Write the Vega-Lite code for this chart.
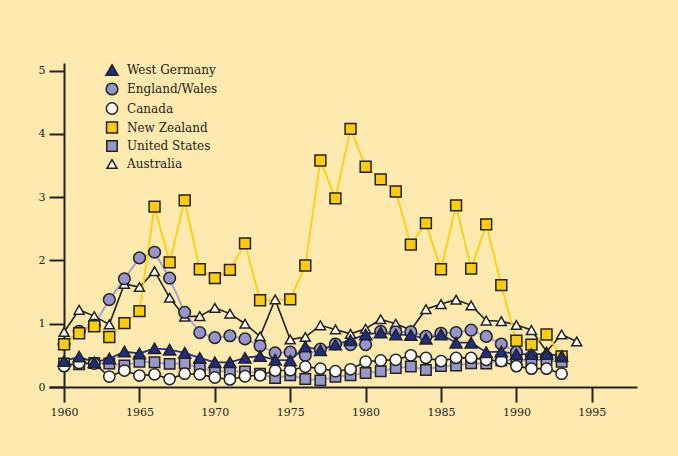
{
  "$schema": "https://vega.github.io/schema/vega-lite/v6.json",
  "width": 588,
  "height": 324,
  "autosize": {"type": "none"},
  "padding": {"left": 49, "top": 63, "right": 41, "bottom": 69},
  "background": "#FEEAAE",
  "config": {
    "view": {"stroke": null},
    "font": "DejaVu Serif"
  },
  "datasets": {
    "series": [
      {"country": "Australia", "year": 1960, "value": 0.87},
      {"country": "Australia", "year": 1961, "value": 1.22},
      {"country": "Australia", "year": 1962, "value": 1.12},
      {"country": "Australia", "year": 1963, "value": 0.99},
      {"country": "Australia", "year": 1964, "value": 1.63},
      {"country": "Australia", "year": 1965, "value": 1.58},
      {"country": "Australia", "year": 1966, "value": 1.83},
      {"country": "Australia", "year": 1967, "value": 1.41},
      {"country": "Australia", "year": 1968, "value": 1.11},
      {"country": "Australia", "year": 1969, "value": 1.12},
      {"country": "Australia", "year": 1970, "value": 1.25},
      {"country": "Australia", "year": 1971, "value": 1.16},
      {"country": "Australia", "year": 1972, "value": 1.0},
      {"country": "Australia", "year": 1973, "value": 0.8},
      {"country": "Australia", "year": 1974, "value": 1.385},
      {"country": "Australia", "year": 1975, "value": 0.75},
      {"country": "Australia", "year": 1976, "value": 0.79},
      {"country": "Australia", "year": 1977, "value": 0.975},
      {"country": "Australia", "year": 1978, "value": 0.91},
      {"country": "Australia", "year": 1979, "value": 0.84},
      {"country": "Australia", "year": 1980, "value": 0.92},
      {"country": "Australia", "year": 1981, "value": 1.07},
      {"country": "Australia", "year": 1982, "value": 1.0},
      {"country": "Australia", "year": 1983, "value": 0.9},
      {"country": "Australia", "year": 1984, "value": 1.23},
      {"country": "Australia", "year": 1985, "value": 1.31},
      {"country": "Australia", "year": 1986, "value": 1.38},
      {"country": "Australia", "year": 1987, "value": 1.29},
      {"country": "Australia", "year": 1988, "value": 1.05},
      {"country": "Australia", "year": 1989, "value": 1.04},
      {"country": "Australia", "year": 1990, "value": 0.98},
      {"country": "Australia", "year": 1991, "value": 0.9},
      {"country": "Australia", "year": 1992, "value": 0.56},
      {"country": "Australia", "year": 1993, "value": 0.83},
      {"country": "Australia", "year": 1994, "value": 0.72},

      {"country": "England/Wales", "year": 1960, "value": 0.68},
      {"country": "England/Wales", "year": 1961, "value": 0.88},
      {"country": "England/Wales", "year": 1962, "value": 0.98},
      {"country": "England/Wales", "year": 1963, "value": 1.38},
      {"country": "England/Wales", "year": 1964, "value": 1.71},
      {"country": "England/Wales", "year": 1965, "value": 2.04},
      {"country": "England/Wales", "year": 1966, "value": 2.13},
      {"country": "England/Wales", "year": 1967, "value": 1.72},
      {"country": "England/Wales", "year": 1968, "value": 1.18},
      {"country": "England/Wales", "year": 1969, "value": 0.86},
      {"country": "England/Wales", "year": 1970, "value": 0.78},
      {"country": "England/Wales", "year": 1971, "value": 0.81},
      {"country": "England/Wales", "year": 1972, "value": 0.76},
      {"country": "England/Wales", "year": 1973, "value": 0.65},
      {"country": "England/Wales", "year": 1974, "value": 0.54},
      {"country": "England/Wales", "year": 1975, "value": 0.55},
      {"country": "England/Wales", "year": 1976, "value": 0.5},
      {"country": "England/Wales", "year": 1977, "value": 0.6},
      {"country": "England/Wales", "year": 1978, "value": 0.68},
      {"country": "England/Wales", "year": 1979, "value": 0.67},
      {"country": "England/Wales", "year": 1980, "value": 0.67},
      {"country": "England/Wales", "year": 1981, "value": 0.88},
      {"country": "England/Wales", "year": 1982, "value": 0.87},
      {"country": "England/Wales", "year": 1983, "value": 0.87},
      {"country": "England/Wales", "year": 1984, "value": 0.8},
      {"country": "England/Wales", "year": 1985, "value": 0.85},
      {"country": "England/Wales", "year": 1986, "value": 0.86},
      {"country": "England/Wales", "year": 1987, "value": 0.9},
      {"country": "England/Wales", "year": 1988, "value": 0.8},
      {"country": "England/Wales", "year": 1989, "value": 0.68},
      {"country": "England/Wales", "year": 1990, "value": 0.55},
      {"country": "England/Wales", "year": 1991, "value": 0.48},
      {"country": "England/Wales", "year": 1992, "value": 0.47},
      {"country": "England/Wales", "year": 1993, "value": 0.45},

      {"country": "United States", "year": 1960, "value": 0.37},
      {"country": "United States", "year": 1961, "value": 0.36},
      {"country": "United States", "year": 1962, "value": 0.38},
      {"country": "United States", "year": 1963, "value": 0.37},
      {"country": "United States", "year": 1964, "value": 0.34},
      {"country": "United States", "year": 1965, "value": 0.4},
      {"country": "United States", "year": 1966, "value": 0.39},
      {"country": "United States", "year": 1967, "value": 0.365},
      {"country": "United States", "year": 1968, "value": 0.375},
      {"country": "United States", "year": 1969, "value": 0.295},
      {"country": "United States", "year": 1970, "value": 0.255},
      {"country": "United States", "year": 1971, "value": 0.245},
      {"country": "United States", "year": 1972, "value": 0.245},
      {"country": "United States", "year": 1973, "value": 0.21},
      {"country": "United States", "year": 1974, "value": 0.14},
      {"country": "United States", "year": 1975, "value": 0.185},
      {"country": "United States", "year": 1976, "value": 0.125},
      {"country": "United States", "year": 1977, "value": 0.105},
      {"country": "United States", "year": 1978, "value": 0.16},
      {"country": "United States", "year": 1979, "value": 0.185},
      {"country": "United States", "year": 1980, "value": 0.22},
      {"country": "United States", "year": 1981, "value": 0.25},
      {"country": "United States", "year": 1982, "value": 0.3},
      {"country": "United States", "year": 1983, "value": 0.325},
      {"country": "United States", "year": 1984, "value": 0.27},
      {"country": "United States", "year": 1985, "value": 0.33},
      {"country": "United States", "year": 1986, "value": 0.34},
      {"country": "United States", "year": 1987, "value": 0.375},
      {"country": "United States", "year": 1988, "value": 0.37},
      {"country": "United States", "year": 1989, "value": 0.42},
      {"country": "United States", "year": 1990, "value": 0.42},
      {"country": "United States", "year": 1991, "value": 0.42},
      {"country": "United States", "year": 1992, "value": 0.43},
      {"country": "United States", "year": 1993, "value": 0.4},

      {"country": "Canada", "year": 1960, "value": 0.33},
      {"country": "Canada", "year": 1961, "value": 0.38},
      {"country": "Canada", "year": 1962, "value": 0.37},
      {"country": "Canada", "year": 1963, "value": 0.165},
      {"country": "Canada", "year": 1964, "value": 0.26},
      {"country": "Canada", "year": 1965, "value": 0.18},
      {"country": "Canada", "year": 1966, "value": 0.2},
      {"country": "Canada", "year": 1967, "value": 0.125},
      {"country": "Canada", "year": 1968, "value": 0.21},
      {"country": "Canada", "year": 1969, "value": 0.2},
      {"country": "Canada", "year": 1970, "value": 0.15},
      {"country": "Canada", "year": 1971, "value": 0.12},
      {"country": "Canada", "year": 1972, "value": 0.17},
      {"country": "Canada", "year": 1973, "value": 0.185},
      {"country": "Canada", "year": 1974, "value": 0.26},
      {"country": "Canada", "year": 1975, "value": 0.265},
      {"country": "Canada", "year": 1976, "value": 0.32},
      {"country": "Canada", "year": 1977, "value": 0.29},
      {"country": "Canada", "year": 1978, "value": 0.25},
      {"country": "Canada", "year": 1979, "value": 0.28},
      {"country": "Canada", "year": 1980, "value": 0.4},
      {"country": "Canada", "year": 1981, "value": 0.42},
      {"country": "Canada", "year": 1982, "value": 0.43},
      {"country": "Canada", "year": 1983, "value": 0.5},
      {"country": "Canada", "year": 1984, "value": 0.46},
      {"country": "Canada", "year": 1985, "value": 0.41},
      {"country": "Canada", "year": 1986, "value": 0.46},
      {"country": "Canada", "year": 1987, "value": 0.46},
      {"country": "Canada", "year": 1988, "value": 0.43},
      {"country": "Canada", "year": 1989, "value": 0.41},
      {"country": "Canada", "year": 1990, "value": 0.33},
      {"country": "Canada", "year": 1991, "value": 0.29},
      {"country": "Canada", "year": 1992, "value": 0.29},
      {"country": "Canada", "year": 1993, "value": 0.21},

      {"country": "New Zealand", "year": 1960, "value": 0.675},
      {"country": "New Zealand", "year": 1961, "value": 0.85},
      {"country": "New Zealand", "year": 1962, "value": 0.96},
      {"country": "New Zealand", "year": 1963, "value": 0.79},
      {"country": "New Zealand", "year": 1964, "value": 1.01},
      {"country": "New Zealand", "year": 1965, "value": 1.2},
      {"country": "New Zealand", "year": 1966, "value": 2.85},
      {"country": "New Zealand", "year": 1967, "value": 1.97},
      {"country": "New Zealand", "year": 1968, "value": 2.95},
      {"country": "New Zealand", "year": 1969, "value": 1.86},
      {"country": "New Zealand", "year": 1970, "value": 1.72},
      {"country": "New Zealand", "year": 1971, "value": 1.85},
      {"country": "New Zealand", "year": 1972, "value": 2.27},
      {"country": "New Zealand", "year": 1973, "value": 1.37},
      {"country": "New Zealand", "year": 1975, "value": 1.385},
      {"country": "New Zealand", "year": 1976, "value": 1.92},
      {"country": "New Zealand", "year": 1977, "value": 3.58},
      {"country": "New Zealand", "year": 1978, "value": 2.98},
      {"country": "New Zealand", "year": 1979, "value": 4.08},
      {"country": "New Zealand", "year": 1980, "value": 3.48},
      {"country": "New Zealand", "year": 1981, "value": 3.28},
      {"country": "New Zealand", "year": 1982, "value": 3.09},
      {"country": "New Zealand", "year": 1983, "value": 2.25},
      {"country": "New Zealand", "year": 1984, "value": 2.59},
      {"country": "New Zealand", "year": 1985, "value": 1.86},
      {"country": "New Zealand", "year": 1986, "value": 2.87},
      {"country": "New Zealand", "year": 1987, "value": 1.87},
      {"country": "New Zealand", "year": 1988, "value": 2.57},
      {"country": "New Zealand", "year": 1989, "value": 1.61},
      {"country": "New Zealand", "year": 1990, "value": 0.73},
      {"country": "New Zealand", "year": 1991, "value": 0.67},
      {"country": "New Zealand", "year": 1992, "value": 0.83},
      {"country": "New Zealand", "year": 1993, "value": 0.485},

      {"country": "West Germany", "year": 1960, "value": 0.41},
      {"country": "West Germany", "year": 1961, "value": 0.48},
      {"country": "West Germany", "year": 1962, "value": 0.39},
      {"country": "West Germany", "year": 1963, "value": 0.45},
      {"country": "West Germany", "year": 1964, "value": 0.56},
      {"country": "West Germany", "year": 1965, "value": 0.53},
      {"country": "West Germany", "year": 1966, "value": 0.61},
      {"country": "West Germany", "year": 1967, "value": 0.59},
      {"country": "West Germany", "year": 1968, "value": 0.54},
      {"country": "West Germany", "year": 1969, "value": 0.46},
      {"country": "West Germany", "year": 1970, "value": 0.39},
      {"country": "West Germany", "year": 1971, "value": 0.39},
      {"country": "West Germany", "year": 1972, "value": 0.46},
      {"country": "West Germany", "year": 1973, "value": 0.49},
      {"country": "West Germany", "year": 1974, "value": 0.43},
      {"country": "West Germany", "year": 1975, "value": 0.42},
      {"country": "West Germany", "year": 1976, "value": 0.64},
      {"country": "West Germany", "year": 1977, "value": 0.58},
      {"country": "West Germany", "year": 1978, "value": 0.67},
      {"country": "West Germany", "year": 1979, "value": 0.74},
      {"country": "West Germany", "year": 1980, "value": 0.83},
      {"country": "West Germany", "year": 1981, "value": 0.86},
      {"country": "West Germany", "year": 1982, "value": 0.83},
      {"country": "West Germany", "year": 1983, "value": 0.82},
      {"country": "West Germany", "year": 1984, "value": 0.76},
      {"country": "West Germany", "year": 1985, "value": 0.83},
      {"country": "West Germany", "year": 1986, "value": 0.7},
      {"country": "West Germany", "year": 1987, "value": 0.7},
      {"country": "West Germany", "year": 1988, "value": 0.55},
      {"country": "West Germany", "year": 1989, "value": 0.56},
      {"country": "West Germany", "year": 1990, "value": 0.52},
      {"country": "West Germany", "year": 1991, "value": 0.52},
      {"country": "West Germany", "year": 1992, "value": 0.52},
      {"country": "West Germany", "year": 1993, "value": 0.49}
    ]
  },
  "data": {"name": "series"},
  "encoding": {
    "x": {
      "field": "year",
      "type": "quantitative",
      "scale": {"domain": [1959, 1998], "nice": false, "zero": false},
      "axis": {
        "title": null,
        "grid": false,
        "values": [1960, 1965, 1970, 1975, 1980, 1985, 1990, 1995],
        "format": "d",
        "domainColor": "#222222",
        "domainWidth": 2,
        "tickColor": "#222222",
        "tickWidth": 2,
        "tickSize": 15,
        "labelFont": "DejaVu Serif",
        "labelFontSize": 11,
        "labelColor": "#222222",
        "labelPadding": 4
      }
    },
    "y": {
      "field": "value",
      "type": "quantitative",
      "scale": {"domain": [0, 5.12], "nice": false},
      "axis": {
        "title": null,
        "grid": false,
        "offset": -15,
        "values": [0, 1, 2, 3, 4, 5],
        "format": "d",
        "domainColor": "#222222",
        "domainWidth": 2,
        "tickColor": "#222222",
        "tickWidth": 2,
        "tickSize": 15,
        "labelFont": "DejaVu Serif",
        "labelFontSize": 11,
        "labelColor": "#222222",
        "labelPadding": 4
      }
    }
  },
  "layer": [
    {"transform": [{"filter": "datum.country === 'Australia'"}], "mark": {"type": "line", "stroke": "#222222", "strokeWidth": 1.6}},
    {"transform": [{"filter": "datum.country === 'England/Wales'"}], "mark": {"type": "line", "stroke": "#A3A3D6", "strokeWidth": 2}},
    {"transform": [{"filter": "datum.country === 'United States'"}], "mark": {"type": "line", "stroke": "#A6A6D8", "strokeWidth": 2}},
    {"transform": [{"filter": "datum.country === 'Canada'"}], "mark": {"type": "line", "stroke": "#222222", "strokeWidth": 1.6}},
    {"transform": [{"filter": "datum.country === 'New Zealand'"}], "mark": {"type": "line", "stroke": "#FCD116", "strokeWidth": 2}},
    {"transform": [{"filter": "datum.country === 'West Germany'"}], "mark": {"type": "line", "stroke": "#22318C", "strokeWidth": 1.8}},
    {
      "mark": {"type": "point", "filled": true, "stroke": "#222222", "strokeWidth": 1.5, "opacity": 1},
      "encoding": {
        "fill": {
          "field": "country",
          "type": "nominal",
          "scale": {
            "domain": ["West Germany", "England/Wales", "Canada", "New Zealand", "United States", "Australia"],
            "range": ["#1F2D86", "#9595CB", "#FFFFFF", "#FBCB0C", "#9898C8", "#FFFFFF"]
          },
          "legend": {
            "orient": "none",
            "legendX": 56,
            "legendY": 0,
            "title": null,
            "labelFont": "DejaVu Serif",
            "labelFontSize": 12,
            "labelColor": "#222222",
            "symbolStrokeColor": "#222222",
            "symbolStrokeWidth": 1.5,
            "rowPadding": 1,
            "labelOffset": 8
          }
        },
        "shape": {
          "field": "country",
          "type": "nominal",
          "scale": {
            "domain": ["West Germany", "England/Wales", "Canada", "New Zealand", "United States", "Australia"],
            "range": ["triangle-up", "circle", "circle", "square", "square", "triangle-up"]
          },
          "legend": {
            "orient": "none",
            "legendX": 56,
            "legendY": 0,
            "title": null
          }
        },
        "size": {
          "field": "country",
          "type": "nominal",
          "scale": {
            "domain": ["West Germany", "England/Wales", "Canada", "New Zealand", "United States", "Australia"],
            "range": [145, 100, 100, 100, 100, 145]
          },
          "legend": {
            "orient": "none",
            "legendX": 56,
            "legendY": 0,
            "title": null
          }
        }
      }
    }
  ]
}
